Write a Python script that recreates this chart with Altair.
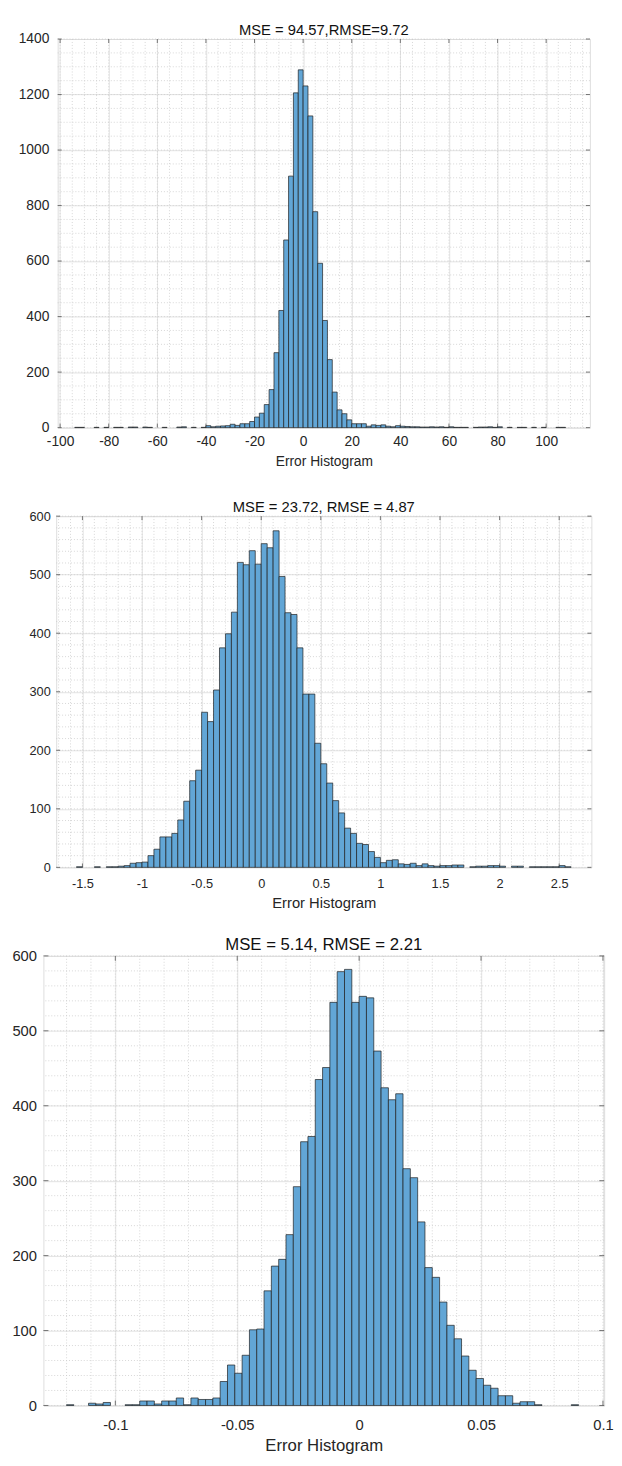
import altair as alt
import pandas as pd

FONT = "Liberation Sans"
TXT = "#262626"
BAR_FILL = "#62A6D6"
BAR_STROKE = "#1f1f1f"
GRID_MAJOR = "#dcdcdc"
GRID_MINOR = "#cccccc"
BOX = "#555555"

# ---------------- Panel 1 ----------------
p1_title = "MSE = 94.57,RMSE=9.72"
p1_start = -94
p1_bin = 2
p1_counts = [1, 1, 0, 0, 1, 0, 1, 0, 1, 1, 0, 2, 2, 0, 2, 1, 0, 0, 1, 0,
             0, 2, 3, 0, 1, 0, 1, 7, 3, 5, 6, 7, 12, 8, 14, 14, 22, 38, 52, 83,
             137, 270, 422, 676, 906, 1206, 1289, 1231, 1123, 778, 592, 386, 245, 128, 64, 50,
             28, 14, 14, 14, 5, 10, 8, 10, 5, 3, 7, 5, 4, 3, 3, 2, 2, 3, 2, 3,
             1, 3, 1, 1, 1, 0, 1, 2, 2, 3, 1, 3, 0, 1, 0, 1, 1, 0, 1, 0, 1, 0, 0, 1, 1]
p1_xdomain = [-101, 118]
p1_ydomain = [0, 1400]
p1_xticks = [-100, -80, -60, -40, -20, 0, 20, 40, 60, 80, 100]
p1_yticks = [0, 200, 400, 600, 800, 1000, 1200, 1400]
p1_xminor = list(range(-100, 119, 5))
p1_yminor = list(range(0, 1401, 50))

# ---------------- Panel 2 ----------------
p2_title = "MSE = 23.72, RMSE = 4.87"
p2_start = -1.55
p2_bin = 0.05
p2_counts = [1, 0, 0, 1, 0, 1, 1, 2, 3, 7, 8, 9, 20, 31, 52, 52, 58, 81, 113, 148,
             166, 265, 249, 303, 375, 399, 436, 521, 517, 541, 518, 553, 546, 575, 497, 435,
             432, 375, 296, 296, 212, 177, 144, 114, 93, 67, 58, 41, 39, 27, 17,
             8, 12, 13, 6, 5, 7, 3, 6, 3, 2, 3, 3, 4, 4, 0, 1, 2, 2, 3, 3,
             2, 0, 2, 2, 0, 1, 1, 1, 1, 1, 3, 1]
p2_xdomain = [-1.72, 2.77]
p2_ydomain = [0, 600]
p2_xticks = [-1.5, -1, -0.5, 0, 0.5, 1, 1.5, 2, 2.5]
p2_yticks = [0, 100, 200, 300, 400, 500, 600]
p2_xminor = [round(-1.7 + 0.1 * i, 2) for i in range(45)]
p2_yminor = list(range(0, 601, 20))

# ---------------- Panel 3 ----------------
p3_title = "MSE = 5.14, RMSE = 2.21"
p3_start = -0.120
p3_bin = 0.003
p3_counts = [1, 0, 0, 3, 2, 4, 0, 0, 1, 1, 6, 6, 2, 6, 6, 10, 1, 10, 8, 8,
             10, 32, 54, 43, 67, 101, 102, 153, 186, 195, 228, 292, 352, 359, 435, 451,
             538, 579, 582, 538,
             546, 544, 473, 424, 408, 416, 316, 304, 245, 184, 171, 138, 107, 89, 66,
             47, 36, 27, 23, 13, 13, 3, 5, 5, 1, 0, 0, 0, 0, 1]
p3_xdomain = [-0.1295, 0.1005]
p3_ydomain = [0, 600]
p3_xticks = [-0.1, -0.05, 0, 0.05, 0.1]
p3_yticks = [0, 100, 200, 300, 400, 500, 600]
p3_xminor = [round(-0.12 + 0.01 * i, 3) for i in range(23)]
p3_yminor = list(range(0, 601, 20))

X_TITLE = "Error Histogram"


def panel(title, start, binw, counts, xdom, ydom, xticks, yticks, xminor, yminor,
          W, H, fs_title, fs_tick, fs_axis, lab_pad, ylab_pad, ttl_pad, title_dy, tick_len):
    lo = [start + i * binw for i in range(len(counts))]
    hi = [start + (i + 1) * binw for i in range(len(counts))]
    df = pd.DataFrame({"lo": lo, "hi": hi, "count": counts})
    df = df[df["count"] > 0]
    xs = alt.Scale(domain=xdom, nice=False, zero=False)
    ys = alt.Scale(domain=ydom, nice=False, zero=False)

    xa = alt.Axis(values=xticks, title=X_TITLE, grid=True, gridColor=GRID_MAJOR,
                  gridWidth=0.8, ticks=False, domain=False,
                  labelExpr="'' + datum.value", labelFont=FONT,
                  labelFontSize=fs_tick, labelColor=TXT, labelPadding=lab_pad,
                  labelOverlap=False, labelBound=False, labelFlush=False,
                  titleFont=FONT, titleFontSize=fs_axis, titleFontWeight="normal",
                  titleColor=TXT, titlePadding=ttl_pad)
    ya = alt.Axis(values=yticks, title="", grid=True, gridColor=GRID_MAJOR,
                  gridWidth=0.8, ticks=False, domain=False,
                  labelExpr="'' + datum.value", labelFont=FONT,
                  labelFontSize=fs_tick, labelColor=TXT, labelPadding=ylab_pad,
                  labelOverlap=False, labelBound=False, labelFlush=False)

    def X(f):
        return alt.X(f, scale=xs, axis=xa)

    def Y(f):
        return alt.Y(f, scale=ys, axis=ya)

    minor_x = alt.Chart(pd.DataFrame({"v": xminor})).mark_rule(
        color=GRID_MINOR, strokeDash=[1, 2], strokeWidth=0.8
    ).encode(x=X("v:Q"))
    minor_y = alt.Chart(pd.DataFrame({"v": yminor})).mark_rule(
        color=GRID_MINOR, strokeDash=[1, 2], strokeWidth=0.8
    ).encode(y=Y("v:Q"))

    xt = pd.DataFrame({"v": xticks})
    yt = pd.DataFrame({"v": yticks})
    tick_bottom = alt.Chart(xt).mark_rule(color=BOX, strokeWidth=0.8).encode(
        x=X("v:Q"), y=alt.value(H), y2=alt.value(H - tick_len))
    tick_top = alt.Chart(xt).mark_rule(color=BOX, strokeWidth=0.8).encode(
        x=X("v:Q"), y=alt.value(0), y2=alt.value(tick_len))
    tick_left = alt.Chart(yt).mark_rule(color=BOX, strokeWidth=0.8).encode(
        y=Y("v:Q"), x=alt.value(0), x2=alt.value(tick_len))
    tick_right = alt.Chart(yt).mark_rule(color=BOX, strokeWidth=0.8).encode(
        y=Y("v:Q"), x=alt.value(W), x2=alt.value(W - tick_len))

    bars = alt.Chart(df).mark_bar(
        fill=BAR_FILL, stroke=BAR_STROKE, strokeWidth=0.7, opacity=1
    ).encode(
        x=X("lo:Q"),
        x2="hi:Q",
        y=Y("count:Q"),
        y2=alt.datum(0),
    )

    return alt.layer(minor_x, minor_y, tick_bottom, tick_left, bars, tick_top, tick_right).properties(
        width=W, height=H,
        title=alt.TitleParams(title, font=FONT, fontSize=fs_title, fontWeight="normal",
                              color="#111111", offset=0, dy=title_dy, frame="group"),
    )


c1 = panel(p1_title, p1_start, p1_bin, p1_counts, p1_xdomain, p1_ydomain, p1_xticks, p1_yticks,
           p1_xminor, p1_yminor, 541, 395, 15, 14, 14, 7, 9, 7, 5.5, 4)
c2 = panel(p2_title, p2_start, p2_bin, p2_counts, p2_xdomain, p2_ydomain, p2_xticks, p2_yticks,
           p2_xminor, p2_yminor, 544, 357, 15, 13, 15, 10, 6, 6, 4.5, 4)
c3 = panel(p3_title, p3_start, p3_bin, p3_counts, p3_xdomain, p3_ydomain, p3_xticks, p3_yticks,
           p3_xminor, p3_yminor, 570, 457, 17, 15, 17, 12, 7, 6, 5.5, 5)

chart = alt.vconcat(c1, c2, c3, spacing=90, center=True, bounds="flush").properties(
    padding={"left": 3, "top": 2.5, "right": 0, "bottom": 0}
).configure_view(stroke=BOX, strokeWidth=0.8).configure(background="white")

chart.save("out.html", embed_options={"renderer": "svg", "actions": False})
